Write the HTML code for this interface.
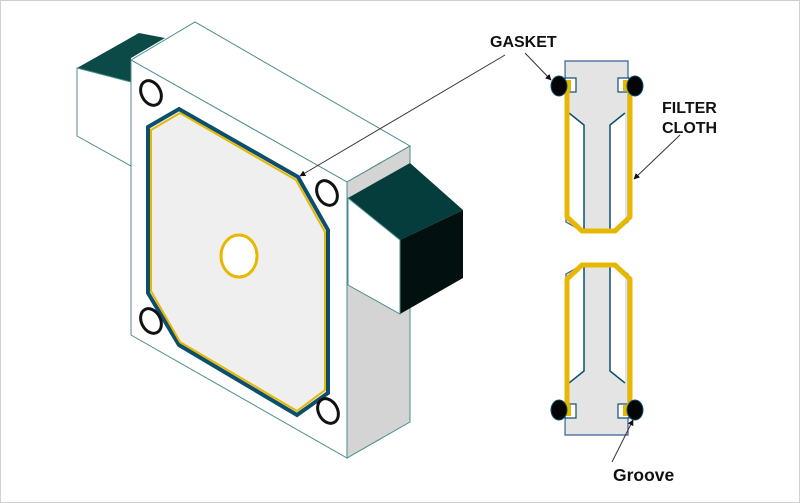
<!DOCTYPE html>
<html><head><meta charset="utf-8"><style>
html,body{margin:0;padding:0;background:#fff}
svg{display:block}
text{font-family:"Liberation Sans",sans-serif;font-weight:bold;font-size:16px;fill:#111}
</style></head><body>
<svg width="800" height="503" viewBox="0 0 800 503" xmlns="http://www.w3.org/2000/svg">
<defs>
<marker id="ar" viewBox="0 0 10 10" refX="9" refY="5" markerWidth="6" markerHeight="6" orient="auto"><path d="M0,0 L10,5 L0,10 z" fill="#111"/></marker>
</defs>
<rect x="0.5" y="0.5" width="799" height="502" fill="#fff" stroke="#d0d0d0"/>
<polygon points="77,68 139,33 165,38 131,58 131,82" fill="#0b4a47"/>
<polygon points="77,68 131,82 131,166 77,136" fill="#fff" stroke="#4a8c8c" stroke-width="1"/>
<polygon points="131,60 195,22 410,146 347,182" fill="#fff" stroke="#4a8c8c" stroke-width="1"/>
<polygon points="347,182 410,146 410,422 347,458" fill="#d4d4d4" stroke="#4a8c8c" stroke-width="1"/>
<polygon points="131,60 347,182 347,458 131,335" fill="#fff" stroke="#4a8c8c" stroke-width="1"/>
<polygon points="348,198 410,163 463,210 400,240" fill="#053d3d"/>
<polygon points="400,240 463,210 463,278 400,314" fill="#031010"/>
<polygon points="348,198 400,240 400,314 348,285" fill="#fff" stroke="#4a8c8c" stroke-width="1"/>
<polygon points="148,127 179,109 298,177 328,230 328,393 297,415 179,345 148,293" fill="#efefef" stroke="#0b4f6c" stroke-width="4"/>
<polygon points="151,130 180,113 296,180 325,232 325,390 297,411 180,342 151,291" fill="none" stroke="#e8b800" stroke-width="2"/>
<ellipse cx="239" cy="256" rx="18" ry="21" fill="#fff" stroke="#e8b800" stroke-width="3"/>
<g fill="none" stroke="#111" stroke-width="3">
<ellipse cx="151" cy="93" rx="9.5" ry="13" transform="rotate(-28 151 93)"/>
<ellipse cx="327" cy="193" rx="9.5" ry="13" transform="rotate(-28 327 193)"/>
<ellipse cx="151" cy="321" rx="9.5" ry="13" transform="rotate(-28 151 321)"/>
<ellipse cx="328" cy="411" rx="9.5" ry="13" transform="rotate(-28 328 411)"/>
</g>
<line x1="505" y1="55" x2="300" y2="176" stroke="#333" stroke-width="1" marker-end="url(#ar)"/>
<g id="piece">
<polygon points="565,61 628,61 628,222 615,231 582,231 566,222" fill="#e4e4e4" stroke="#3a5f9a" stroke-width="1.2"/>
<polygon points="568,112 584,125 584,230 568,222" fill="#fff"/>
<polygon points="625,112 610,125 610,230 625,222" fill="#fff"/>
<polyline points="569,113 584,125 584,230" fill="none" stroke="#0b4f6c" stroke-width="1.5"/>
<polyline points="625,113 610,125 610,230" fill="none" stroke="#0b4f6c" stroke-width="1.5"/>
<rect x="565" y="78" width="11" height="14" fill="#fff" stroke="#0b4f6c" stroke-width="1.2"/>
<rect x="618" y="78" width="11" height="14" fill="#fff" stroke="#0b4f6c" stroke-width="1.2"/>
<rect x="566" y="80" width="5" height="11" fill="#e8b800"/>
<rect x="623" y="80" width="5" height="11" fill="#e8b800"/>
<polyline points="568,88 567,92 567,217 582,231 615,231 630,217 630,92 627,88" fill="none" stroke="#e8b800" stroke-width="5" stroke-linejoin="round"/>
<ellipse cx="559" cy="86" rx="8" ry="10" fill="#050505" stroke="#0b4f6c" stroke-width="1"/>
<ellipse cx="635" cy="86" rx="8" ry="10" fill="#050505" stroke="#0b4f6c" stroke-width="1"/>
</g>
<use href="#piece" transform="matrix(1,0,0,-1,0,496)"/>
<text x="490" y="47">GASKET</text>
<line x1="525" y1="53" x2="551" y2="80" stroke="#333" stroke-width="1" marker-end="url(#ar)"/>
<text x="662" y="113">FILTER</text>
<text x="662" y="133">CLOTH</text>
<line x1="680" y1="135" x2="634" y2="179" stroke="#333" stroke-width="1" marker-end="url(#ar)"/>
<text x="613" y="481" style="font-size:17.5px">Groove</text>
<line x1="612" y1="462" x2="633" y2="420" stroke="#333" stroke-width="1" marker-end="url(#ar)"/>
</svg>
</body></html>
